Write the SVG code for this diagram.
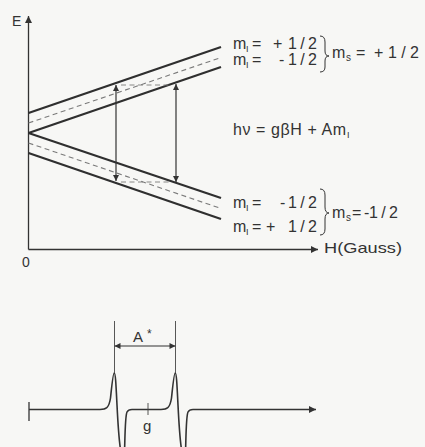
<svg xmlns="http://www.w3.org/2000/svg" width="425" height="447" viewBox="0 0 425 447">
<defs>
<marker id="ah" viewBox="0 0 10 10" refX="10" refY="5" markerWidth="8" markerHeight="6" markerUnits="userSpaceOnUse" orient="auto-start-reverse">
<path d="M0,0 L10,5 L0,10 z" fill="#333"/>
</marker>
<marker id="ax" viewBox="0 0 10 10" refX="10" refY="5" markerWidth="9" markerHeight="7" markerUnits="userSpaceOnUse" orient="auto">
<path d="M0,0 L10,5 L0,10 z" fill="#333"/>
</marker>
</defs>
<style>
text{font-family:"Liberation Sans",Arial,sans-serif;fill:#333}
.t{font-size:16px}
.sub{font-size:9px}
.lvl{stroke:#2f2f2f;stroke-width:2.2;fill:none}
.dash{stroke:#7a7a7a;stroke-width:1.1;stroke-dasharray:5 3.5;fill:none}
.ax{stroke:#333;stroke-width:1.3;fill:none}
.arr{stroke:#333;stroke-width:1.2;fill:none}
.thin{stroke:#444;stroke-width:0.9;fill:none}
</style>
<rect x="0" y="0" width="425" height="447" fill="#f7f7f5"/>

<g id="axes">
<line class="ax" x1="28.5" y1="249.5" x2="28.5" y2="16" marker-end="url(#ax)"/>
<line class="ax" x1="28.5" y1="249.5" x2="318" y2="249.5" marker-end="url(#ax)"/>
<text x="12" y="26" style="font-size:14px">E</text>
<text x="22" y="267" style="font-size:14px">0</text>
<text x="324" y="253" style="font-size:15px" textLength="78" lengthAdjust="spacingAndGlyphs">H(Gauss)</text>
</g>

<g id="levels-upper">
<line class="lvl" x1="28.5" y1="113" x2="221" y2="47"/>
<line class="dash" x1="28.5" y1="123" x2="221" y2="57.5"/>
<line class="lvl" x1="28.5" y1="133" x2="221" y2="67"/>
</g>
<g id="levels-lower">
<line class="lvl" x1="28.5" y1="133" x2="221" y2="198"/>
<line class="dash" x1="28.5" y1="143" x2="221" y2="208.5"/>
<line class="lvl" x1="28.5" y1="153" x2="221" y2="219"/>
</g>

<g id="connectors">
<line class="arr" x1="116" y1="85" x2="116" y2="181" marker-start="url(#ah)" marker-end="url(#ah)"/>
<line class="arr" x1="176" y1="84" x2="176" y2="182" marker-start="url(#ah)" marker-end="url(#ah)"/>
<line class="dash" x1="121" y1="85" x2="172" y2="85" style="stroke-width:0.9"/>
<line class="dash" x1="121" y1="182" x2="172" y2="182" style="stroke-width:0.9"/>
<line class="arr" x1="114.5" y1="346" x2="175.5" y2="346" marker-start="url(#ah)" marker-end="url(#ah)"/>
</g>

<g id="label-upper">
<text class="t" x="233" y="49">m</text><text class="sub" x="246" y="52">I</text>
<text class="t" x="252" y="49">=</text><text class="t" x="273" y="49">+</text>
<text class="t" x="288" y="49" textLength="29" lengthAdjust="spacing">1/2</text>
<text class="t" x="233" y="65">m</text><text class="sub" x="246" y="68">I</text>
<text class="t" x="252" y="65">=</text><text class="t" x="279" y="65">-</text>
<text class="t" x="288" y="65" textLength="29" lengthAdjust="spacing">1/2</text>
<path d="M320,36 Q325,36 325,42 L325,51 Q325,56 329,56 Q325,56 325,61 L325,67 Q325,72 320,72" fill="none" stroke="#333" stroke-width="1"/>
<text class="t" x="332" y="58">m</text><text style="font-size:10px" x="346" y="61">s</text>
<text class="t" x="356" y="58">=</text><text class="t" x="374" y="58">+</text>
<text class="t" x="388" y="58" textLength="31" lengthAdjust="spacing">1/2</text>
</g>

<g id="label-formula">
<text class="t" x="233" y="135" textLength="113" lengthAdjust="spacing">hν = gβH + Am</text>
<text class="sub" x="347" y="138">I</text>
</g>

<g id="label-lower">
<text class="t" x="233" y="208">m</text><text class="sub" x="246" y="211">I</text>
<text class="t" x="252" y="208">=</text><text class="t" x="280" y="208">-</text>
<text class="t" x="288" y="208" textLength="29" lengthAdjust="spacing">1/2</text>
<text class="t" x="233" y="232">m</text><text class="sub" x="246" y="235">I</text>
<text class="t" x="252" y="232">=</text><text class="t" x="266" y="232">+</text>
<text class="t" x="288" y="232" textLength="29" lengthAdjust="spacing">1/2</text>
<path d="M320,189 Q325,189 325,195 L325,207 Q325,213 329,213 Q325,213 325,219 L325,229 Q325,235 320,235" fill="none" stroke="#333" stroke-width="1"/>
<text class="t" x="332" y="218">m</text><text style="font-size:10px" x="346" y="221">s</text>
<text class="t" x="352" y="218">=</text><text class="t" x="364" y="218">-</text>
<text class="t" x="369" y="218" textLength="29" lengthAdjust="spacing">1/2</text>
</g>

<g id="spectrum">
<line class="ax" x1="29" y1="402" x2="29" y2="421"/>
<path d="M29,409.5 L100,409.5 C106,409.5 109,408 110.5,398 C112,384 113,373 114.2,373 C115.5,373 116,385 117,405 C118,425 119.5,445 121,452 L124.5,452 C125,440 125,416 127,412 C128,410 129,409.5 132,409.5 L161,409.5 C167,409.5 170,408 171.5,398 C173,384 174,373 175.2,373 C176.5,373 177,385 178,405 C179,425 180.5,445 182,452 L185.5,452 C186,440 186,416 188,412 C189,410 190,409.5 193,409.5 L316,409.5" fill="none" stroke="#333" stroke-width="1.6" marker-end="url(#ax)"/>
<line class="thin" x1="148" y1="403" x2="148" y2="415"/>
<text x="143" y="431" style="font-size:15px">g</text>
<line class="thin" x1="114.5" y1="321" x2="114.5" y2="373"/>
<line class="thin" x1="175.5" y1="321" x2="175.5" y2="373"/>
<text x="133" y="342" style="font-size:15px">A</text>
<text x="147" y="338" style="font-size:12px">*</text>
</g>
</svg>
